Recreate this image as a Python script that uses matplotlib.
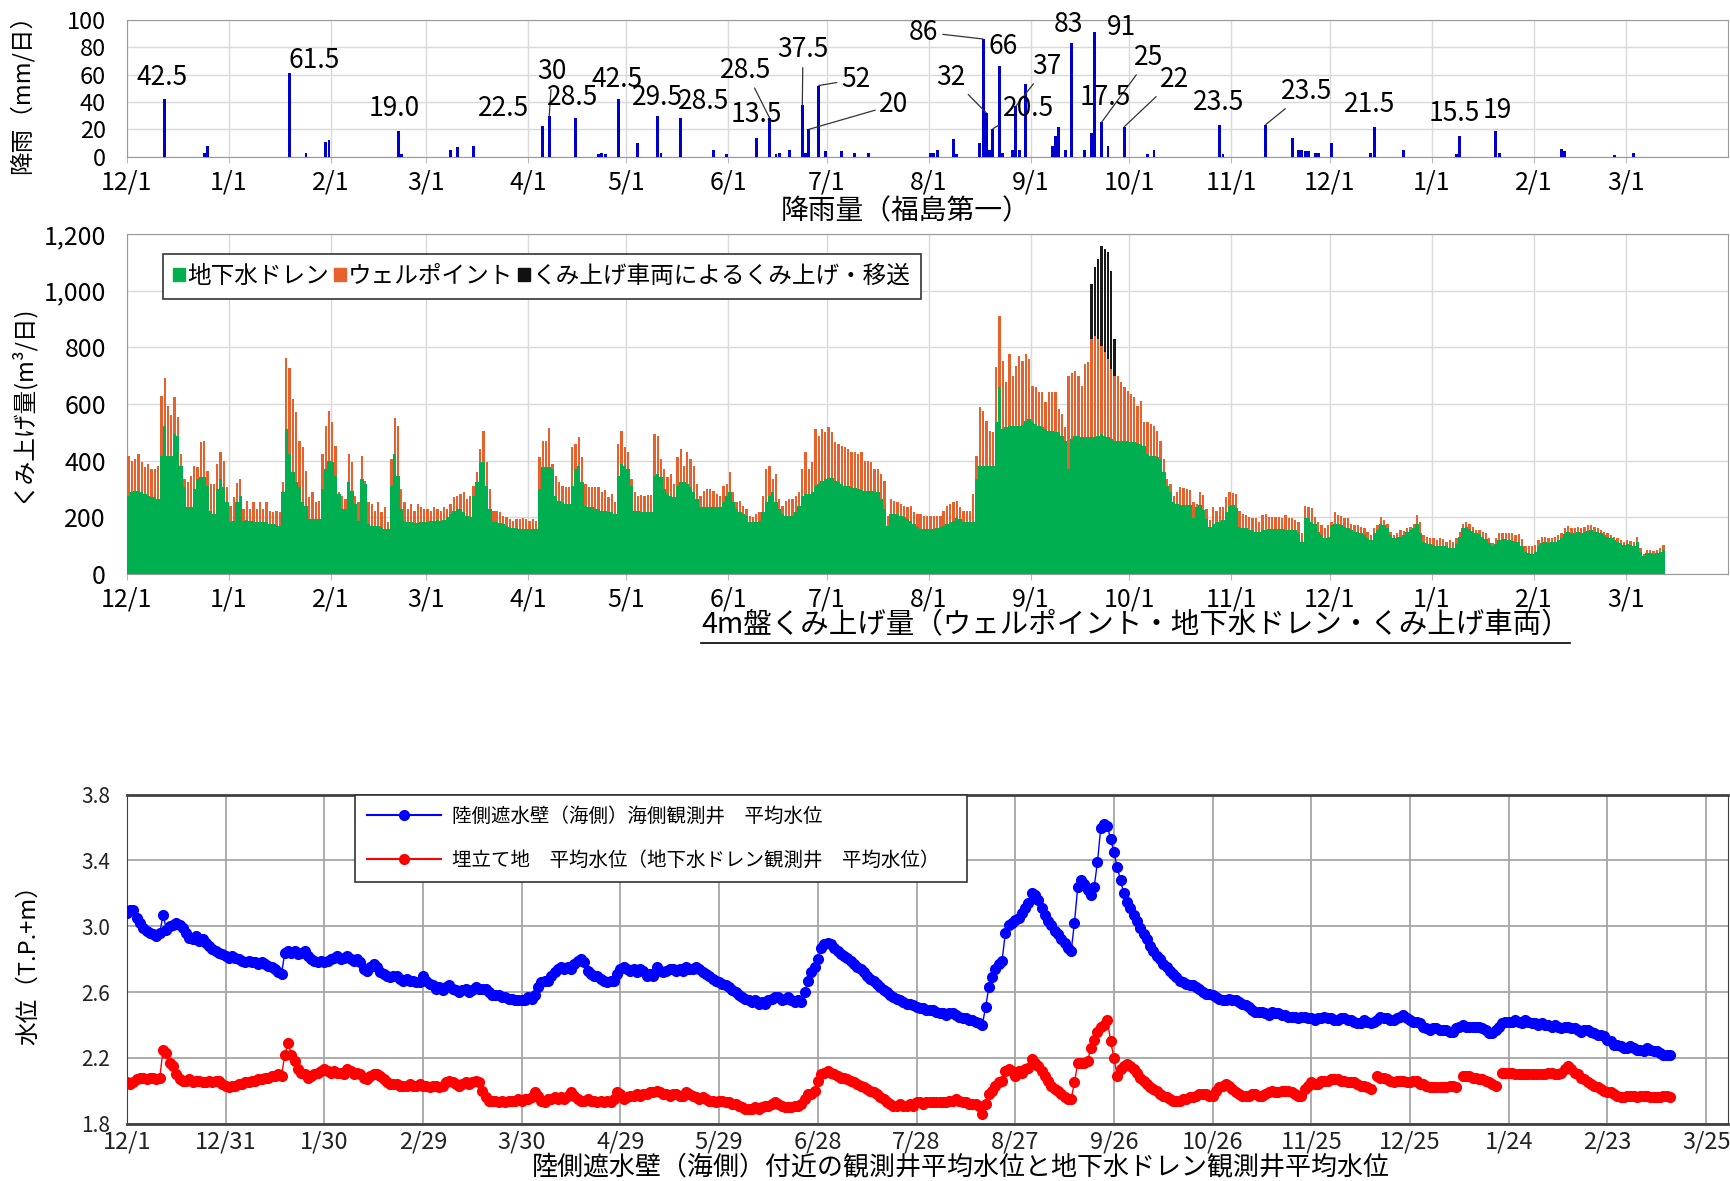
import numpy as np
import matplotlib
matplotlib.use('Agg')
import matplotlib.pyplot as plt
from matplotlib.patches import Patch
from matplotlib.lines import Line2D
from matplotlib.ticker import FuncFormatter

plt.rcParams['font.family'] = ['Noto Sans CJK JP', 'DejaVu Sans']

# days are counted from 12/1 (2015)
month_days = [0, 31, 62, 91, 122, 152, 183, 213, 244, 275, 305, 336, 366, 397, 428, 456]
month_labels = ['12/1', '1/1', '2/1', '3/1', '4/1', '5/1', '6/1', '7/1', '8/1',
                '9/1', '10/1', '11/1', '12/1', '1/1', '2/1', '3/1']
level_labels = ['12/1', '12/31', '1/30', '2/29', '3/30', '4/29', '5/29', '6/28', '7/28',
                '8/27', '9/26', '10/26', '11/25', '12/25', '1/24', '2/23', '3/25']

# rainfall (mm/day)
rain_day = [11, 23, 24, 49, 54, 60, 61, 82, 83, 98, 100, 105, 126, 128, 136, 143, 144, 145,
            149, 155, 161, 162, 168, 178, 182, 191, 195, 197, 198, 201, 205, 206, 207, 210,
            212, 217, 221, 225, 244, 245, 246, 251, 252, 259, 260, 261, 262, 263, 265, 266,
            269, 270, 271, 273, 281, 282, 283, 285, 287, 291, 293, 294, 296, 298, 303, 310,
            312, 332, 333, 346, 354, 356, 357, 358, 359, 361, 362, 366, 378, 379, 388, 404,
            405, 416, 417, 436, 437, 452, 458]
rain_mm = [42.5, 3, 8, 61.5, 3, 11, 12, 19.0, 2, 5, 7, 8, 22.5, 30, 28.5, 2, 3, 2,
           42.5, 10, 29.5, 3, 28.5, 5, 2, 13.5, 28.5, 2, 3, 5, 37.5, 3, 20, 52,
           4, 4, 3, 3, 3, 3, 5, 13, 2, 10, 86, 32, 5, 20.5, 66, 3,
           5, 37, 5, 53, 8, 15, 22, 5, 83, 5, 17.5, 91, 25, 8, 22, 2,
           5, 23.5, 2, 23.5, 14, 5, 5, 4, 4, 3, 3, 10, 3, 21.5, 5, 2,
           15.5, 19, 3, 6, 4, 1, 3]

label_text = ['42.5', '61.5', '19.0', '22.5', '30', '28.5', '42.5', '29.5', '28.5', '13.5',
              '28.5', '37.5', '52', '20', '86', '66', '32', '37', '20.5', '83', '91', '25',
              '17.5', '22', '23.5', '23.5', '21.5', '15.5', '19']
label_day = [11, 49, 82, 126, 128, 136, 149, 161, 168, 191, 195, 205, 210, 207, 260, 265, 261,
             270, 263, 287, 294, 296, 293, 303, 332, 346, 379, 405, 416]
label_leader = [0, 0, 0, 0, 1, 0, 0, 0, 0, 0, 1, 1, 1, 1, 1, 0, 1, 1, 1, 0, 0, 1, 0, 1, 0, 1, 0, 0, 0]
label_pos = [(10.7, 58), (57, 70), (81.3, 35.5), (114.7, 35.5), (129.4, 62), (135.5, 43.5),
             (149, 56.5), (161.5, 43.5), (175.6, 40), (191.6, 30.6), (188.3, 63), (205.7, 78),
             (221.7, 56.5), (233.4, 38), (242.5, 91), (266.6, 80.6), (250.8, 58), (280, 66),
             (274.2, 35.5), (286.6, 96.8), (302.7, 94.4), (311, 72.6), (297.7, 43.5),
             (318.7, 56.5), (332.1, 39.5), (358.9, 47.6), (378, 37.9), (403.8, 31.5), (417.0, 33.9)]

# pumped volume (m3/day): groundwater drain, and drain + well point (top of orange)
drain = (
    # Dec
    [276, 288, 294, 294, 288, 282, 276, 270, 270, 265, 417, 523, 417, 417, 494, 488, 380, 306, 235, 235,
     300, 335, 341, 341, 312, 223, 212, 300, 335, 306, 253] +
    # Jan
    [182, 188, 253, 276, 188, 192, 188, 188, 185, 184, 182, 182, 176, 176, 173, 170, 288, 512, 423, 359,
     323, 306, 253, 241, 194, 194, 194, 194, 300, 370, 400] +
    # Feb
    [394, 347, 282, 229, 229, 323, 294, 247, 188, 335, 317, 176, 170, 170, 170, 165, 159, 159, 312, 423,
     347, 229, 188, 182, 182, 180, 180, 182, 184] +
    # Mar
    [184, 188, 188, 190, 188, 192, 200, 210, 223, 229, 229, 217, 206, 200, 276, 323, 394, 394, 312, 229,
     182, 182, 180, 176, 170, 165, 162, 162, 159, 159, 159] +
    # Apr
    [159, 159, 159, 300, 376, 376, 376, 370, 276, 259, 253, 247, 247, 312, 370, 382, 323, 241, 235, 235,
     230, 230, 223, 223, 217, 217, 212, 347, 388, 382] +
    # May
    [370, 312, 223, 223, 220, 218, 218, 218, 347, 353, 341, 300, 282, 276, 270, 312, 323, 323, 318, 306,
     288, 265, 235, 235, 235, 235, 235, 235, 235, 253, 276] +
    # Jun
    [288, 253, 229, 218, 212, 206, 182, 182, 182, 188, 218, 253, 276, 288, 253, 229, 212, 206, 206, 206,
     218, 241, 276, 282, 282, 288, 312, 318, 329, 335] +
    # Jul
    [338, 338, 329, 323, 318, 312, 312, 306, 303, 300, 297, 294, 294, 294, 294, 288, 265, 229, 171, 212,
     212, 212, 206, 200, 194, 188, 176, 165, 159, 159, 159] +
    # Aug
    [159, 159, 161, 165, 171, 176, 182, 188, 196, 194, 185, 182, 182, 182, 335, 382, 382, 382, 382, 382,
     535, 659, 512, 517, 523, 523, 523, 523, 525, 541, 547] +
    # Sep
    [535, 529, 523, 517, 512, 506, 503, 500, 500, 488, 470, 370, 476, 488, 488, 482, 482, 482, 482, 482,
     488, 494, 488, 482, 476, 470, 470, 470, 470, 470] +
    # Oct
    [465, 465, 462, 459, 453, 423, 417, 417, 412, 406, 359, 312, 288, 253, 248, 245, 245, 242, 242, 198,
     237, 242, 225, 195, 167, 178, 184, 184, 190, 219, 240] +
    # Nov
    [245, 233, 167, 161, 161, 155, 155, 149, 149, 155, 155, 158, 158, 158, 158, 158, 156, 156, 155, 155,
     143, 114, 198, 198, 184, 175, 149, 138, 126, 131] +
    # Dec
    [172, 178, 175, 172, 167, 161, 155, 149, 147, 143, 138, 126, 120, 143, 155, 175, 172, 161, 138, 128,
     131, 131, 138, 149, 155, 161, 175, 143, 114, 108, 106] +
    # Jan
    [103, 97, 100, 99, 97, 93, 93, 105, 131, 161, 167, 158, 152, 143, 140, 131, 124, 108, 97, 105,
     120, 124, 124, 120, 117, 112, 114, 97, 79, 73, 70] +
    # Feb
    [79, 97, 108, 114, 108, 112, 114, 120, 126, 140, 149, 143, 143, 149, 143, 149, 152, 155, 149, 147,
     143, 138, 131, 126, 120, 114, 108, 103] +
    # Mar
    [105, 103, 100, 114, 79, 62, 73, 73, 70, 73, 79, 85]
)

drain_plus_wp = (
    # Dec
    [417, 400, 406, 423, 394, 376, 388, 370, 370, 382, 629, 690, 594, 561, 623, 555, 423, 335, 323, 347,
     382, 376, 465, 470, 365, 318, 318, 388, 429, 400, 306] +
    # Jan
    [241, 270, 321, 335, 229, 259, 229, 255, 229, 255, 229, 253, 223, 220, 223, 220, 323, 761, 726, 617,
     570, 470, 447, 365, 270, 288, 253, 259, 423, 523, 576] +
    # Feb
    [535, 453, 288, 276, 265, 423, 394, 276, 253, 417, 329, 253, 247, 223, 253, 220, 235, 182, 406, 549,
     523, 300, 253, 229, 247, 223, 247, 235, 229] +
    # Mar
    [229, 223, 235, 229, 223, 235, 229, 247, 270, 276, 282, 288, 265, 276, 312, 359, 441, 506, 394, 300,
     223, 223, 220, 206, 200, 194, 188, 194, 194, 196, 194] +
    # Apr
    [188, 194, 188, 412, 470, 470, 514, 388, 347, 323, 312, 306, 306, 447, 459, 482, 412, 318, 306, 306,
     306, 306, 288, 295, 270, 282, 253, 459, 506, 447] +
    # May
    [429, 335, 288, 276, 280, 276, 280, 278, 494, 486, 406, 370, 341, 353, 318, 412, 441, 382, 429, 406,
     382, 318, 276, 294, 300, 300, 294, 282, 276, 312, 318] +
    # Jun
    [359, 288, 253, 259, 241, 229, 206, 200, 212, 218, 276, 370, 382, 335, 353, 265, 241, 259, 265, 265,
     276, 288, 370, 429, 370, 394, 512, 488, 512, 500] +
    # Jul
    [517, 500, 465, 459, 453, 447, 441, 429, 429, 423, 429, 400, 400, 394, 370, 370, 353, 329, 206, 265,
     259, 253, 247, 241, 235, 241, 218, 212, 212, 206, 206] +
    # Aug
    [206, 206, 206, 206, 223, 241, 247, 253, 259, 235, 223, 223, 223, 282, 417, 588, 576, 541, 506, 500,
     729, 911, 753, 676, 776, 700, 735, 770, 753, 776, 759] +
    # Sep
    [665, 659, 641, 641, 606, 641, 641, 641, 582, 564, 520, 700, 711, 717, 700, 665, 741, 747, 829, 841,
     829, 806, 782, 759, 723, 700, 700, 676, 659, 647] +
    # Oct
    [635, 623, 594, 611, 535, 535, 529, 523, 506, 470, 406, 335, 318, 276, 290, 307, 303, 301, 295, 254,
     248, 289, 277, 231, 190, 237, 221, 237, 237, 272, 289] +
    # Nov
    [287, 283, 221, 210, 207, 202, 196, 196, 184, 207, 213, 202, 202, 202, 202, 199, 207, 196, 199, 190,
     182, 143, 240, 237, 233, 202, 182, 173, 161, 173] +
    # Dec
    [184, 219, 207, 205, 196, 196, 178, 173, 173, 167, 161, 149, 138, 161, 173, 202, 190, 178, 149, 138,
     143, 155, 152, 161, 167, 178, 207, 184, 138, 131, 128] +
    # Jan
    [126, 120, 128, 124, 114, 120, 114, 126, 149, 178, 184, 175, 167, 155, 155, 149, 143, 126, 108, 126,
     143, 146, 146, 143, 143, 138, 140, 124, 97, 97, 97] +
    # Feb
    [103, 120, 131, 131, 126, 128, 131, 138, 143, 161, 170, 163, 163, 167, 163, 167, 173, 173, 167, 163,
     155, 149, 143, 138, 131, 126, 120, 114] +
    # Mar
    [120, 117, 112, 131, 91, 70, 85, 85, 82, 85, 91, 103]
)

# pumping by vehicles (black)
truck_day = [293, 294, 295, 296, 297, 298, 299, 300]
truck = [194, 241, 282, 350, 365, 378, 347, 131]

# mean water levels (T.P.+m), one value per day from 12/1
level_sea = [
    3.08, 3.10, 3.10, 3.05, 3.02, 2.99, 2.97, 2.96, 2.95, 2.94,
    2.96, 3.07, 2.98, 3.00, 3.01, 3.02, 3.01, 2.99, 2.96, 2.93,
    2.92, 2.94, 2.91, 2.92, 2.90, 2.88, 2.86, 2.85, 2.84, 2.83,
    2.82, 2.81, 2.82, 2.81, 2.80, 2.79, 2.78, 2.79, 2.78, 2.78,
    2.77, 2.78, 2.77, 2.76, 2.75, 2.74, 2.72, 2.71, 2.84, 2.85,
    2.84, 2.85, 2.83, 2.84, 2.85, 2.82, 2.80, 2.79, 2.78, 2.79,
    2.78, 2.79, 2.80, 2.81, 2.82, 2.80, 2.81, 2.82, 2.80, 2.79,
    2.80, 2.78, 2.74, 2.73, 2.75, 2.77, 2.75, 2.72, 2.71, 2.70,
    2.69, 2.70, 2.70, 2.68, 2.67, 2.68, 2.67, 2.67, 2.66, 2.66,
    2.70, 2.67, 2.65, 2.64, 2.62, 2.63, 2.61, 2.63, 2.64, 2.62,
    2.61, 2.60, 2.61, 2.62, 2.60, 2.61, 2.63, 2.62, 2.62, 2.62,
    2.60, 2.58, 2.58, 2.58, 2.57, 2.57, 2.56, 2.56, 2.55, 2.55,
    2.55, 2.55, 2.57, 2.56, 2.58, 2.63, 2.66, 2.67, 2.67, 2.70,
    2.72, 2.74, 2.75, 2.74, 2.75, 2.74, 2.77, 2.79, 2.80, 2.78,
    2.73, 2.71, 2.70, 2.70, 2.68, 2.67, 2.66, 2.67, 2.67, 2.71,
    2.74, 2.75, 2.74, 2.73, 2.74, 2.72, 2.74, 2.73, 2.70, 2.71,
    2.70, 2.75, 2.73, 2.72, 2.73, 2.74, 2.74, 2.73, 2.74, 2.73,
    2.75, 2.74, 2.74, 2.75, 2.74, 2.72, 2.71, 2.70, 2.68, 2.67,
    2.66, 2.65, 2.64, 2.63, 2.61, 2.60, 2.58, 2.57, 2.56, 2.55,
    2.54, 2.55, 2.53, 2.54, 2.53, 2.55, 2.56, 2.57, 2.57, 2.55,
    2.56, 2.57, 2.55, 2.54, 2.55, 2.54, 2.60, 2.67, 2.72, 2.75,
    2.80, 2.87, 2.89, 2.90, 2.89, 2.87, 2.85, 2.83, 2.82, 2.81,
    2.79, 2.77, 2.75, 2.74, 2.72, 2.70, 2.68, 2.67, 2.65, 2.63,
    2.61, 2.60, 2.58, 2.57, 2.56, 2.55, 2.54, 2.53, 2.53, 2.52,
    2.51, 2.50, 2.50, 2.49, 2.49, 2.49, 2.48, 2.47, 2.47, 2.46,
    2.47, 2.47, 2.46, 2.45, 2.44, 2.44, 2.43, 2.43, 2.42, 2.41,
    2.40, 2.51, 2.63, 2.69, 2.74, 2.77, 2.79, 2.96, 3.01, 3.02,
    3.04, 3.05, 3.08, 3.11, 3.14, 3.20, 3.19, 3.16, 3.11, 3.07,
    3.03, 3.01, 2.97, 2.95, 2.92, 2.90, 2.87, 2.85, 3.02, 3.24,
    3.28, 3.26, 3.22, 3.19, 3.24, 3.39, 3.60, 3.62, 3.61, 3.53,
    3.45, 3.36, 3.28, 3.20, 3.15, 3.11, 3.07, 3.03, 2.99, 2.95,
    2.92, 2.88, 2.85, 2.82, 2.80, 2.77, 2.75, 2.73, 2.71, 2.69,
    2.67, 2.66, 2.65, 2.64, 2.64, 2.63, 2.62, 2.60, 2.59, 2.59,
    2.58, 2.57, 2.56, 2.55, 2.55, 2.56, 2.55, 2.55, 2.54, 2.53,
    2.52, 2.51, 2.49, 2.48, 2.48, 2.48, 2.47, 2.46, 2.48, 2.47,
    2.47, 2.46, 2.46, 2.45, 2.45, 2.45, 2.44, 2.45, 2.45, 2.44,
    2.44, 2.43, 2.44, 2.44, 2.45, 2.44, 2.44, 2.43, 2.43, 2.44,
    2.44, 2.43, 2.43, 2.42, 2.41, 2.41, 2.43, 2.42, 2.41, 2.42,
    2.43, 2.45, 2.44, 2.44, 2.43, 2.43, 2.44, 2.45, 2.46, 2.44,
    2.43, 2.42, 2.42, 2.41, 2.39, 2.38, 2.37, 2.38, 2.38, 2.37,
    2.37, 2.37, 2.36, 2.36, 2.38, 2.39, 2.40, 2.39, 2.39, 2.39,
    2.39, 2.39, 2.38, 2.37, 2.35, 2.35, 2.37, 2.39, 2.41, 2.42,
    2.42, 2.42, 2.43, 2.42, 2.41, 2.43, 2.42, 2.41, 2.41, 2.40,
    2.41, 2.40, 2.40, 2.39, 2.40, 2.39, 2.38, 2.39, 2.39, 2.38,
    2.38, 2.37, 2.36, 2.37, 2.37, 2.36, 2.35, 2.34, 2.34, 2.33,
    2.31, 2.30, 2.28, 2.28, 2.27, 2.26, 2.26, 2.27, 2.26, 2.25,
    2.25, 2.24, 2.26, 2.25, 2.24, 2.24, 2.23, 2.22, 2.22, 2.22,
]

level_land = [
    2.05, 2.04, 2.05, 2.07, 2.08, 2.08, 2.07, 2.08, 2.08, 2.07,
    2.08, 2.25, 2.23, 2.17, 2.15, 2.10, 2.07, 2.06, 2.06, 2.07,
    2.05, 2.06, 2.06, 2.05, 2.05, 2.06, 2.05, 2.06, 2.06, 2.04,
    2.03, 2.02, 2.03, 2.03, 2.04, 2.04, 2.05, 2.05, 2.06, 2.06,
    2.07, 2.07, 2.08, 2.08, 2.09, 2.09, 2.10, 2.09, 2.22, 2.29,
    2.22, 2.18, 2.13, 2.11, 2.10, 2.08, 2.09, 2.10, 2.11, 2.12,
    2.13, 2.12, 2.11, 2.12, 2.11, 2.11, 2.10, 2.13, 2.12, 2.10,
    2.11, 2.10, 2.08, 2.07, 2.09, 2.10, 2.10, 2.09, 2.07, 2.05,
    2.04, 2.04, 2.04, 2.03, 2.03, 2.03, 2.04, 2.03, 2.03, 2.04,
    2.03, 2.03, 2.02, 2.03, 2.03, 2.02, 2.03, 2.05, 2.06, 2.05,
    2.04, 2.03, 2.04, 2.05, 2.04, 2.05, 2.06, 2.05, 2.00, 1.96,
    1.94, 1.94, 1.94, 1.93, 1.94, 1.93, 1.94, 1.94, 1.94, 1.95,
    1.94, 1.95, 1.95, 1.96, 1.99, 1.97, 1.94, 1.93, 1.95, 1.95,
    1.96, 1.95, 1.96, 1.95, 1.97, 1.99, 1.97, 1.95, 1.94, 1.94,
    1.95, 1.94, 1.94, 1.93, 1.94, 1.93, 1.94, 1.93, 1.95, 1.99,
    1.98, 1.95, 1.96, 1.97, 1.97, 1.98, 1.97, 1.98, 1.98, 1.99,
    1.99, 2.00, 1.99, 1.98, 1.98, 1.97, 1.98, 1.98, 1.97, 1.97,
    1.99, 1.98, 1.97, 1.96, 1.95, 1.96, 1.95, 1.94, 1.94, 1.93,
    1.94, 1.94, 1.93, 1.93, 1.92, 1.92, 1.91, 1.90, 1.89, 1.89,
    1.89, 1.90, 1.89, 1.90, 1.91, 1.91, 1.92, 1.93, 1.92, 1.91,
    1.90, 1.90, 1.90, 1.91, 1.91, 1.92, 1.95, 1.98, 1.98, 2.00,
    2.06, 2.10, 2.11, 2.12, 2.11, 2.10, 2.09, 2.08, 2.08, 2.07,
    2.06, 2.05, 2.04, 2.03, 2.02, 2.01, 2.00, 1.99, 1.98, 1.96,
    1.95, 1.93, 1.92, 1.91, 1.91, 1.92, 1.91, 1.91, 1.92, 1.91,
    1.93, 1.93, 1.92, 1.93, 1.93, 1.93, 1.93, 1.93, 1.93, 1.93,
    1.94, 1.94, 1.95, 1.94, 1.93, 1.93, 1.92, 1.92, 1.92, 1.91,
    1.86, 1.92, 1.98, 2.00, 2.03, 2.05, 2.06, 2.12, 2.13, 2.12,
    2.09, 2.12, 2.11, 2.13, 2.14, 2.19, 2.17, 2.15, 2.12, 2.09,
    2.06, 2.03, 2.01, 2.00, 1.98, 1.96, 1.95, 1.95, 2.05, 2.17,
    2.17, 2.17, 2.18, 2.26, 2.31, 2.36, 2.39, 2.40, 2.43, 2.30,
    2.20, 2.09, 2.13, 2.15, 2.16, 2.15, 2.13, 2.11, 2.08, 2.06,
    2.04, 2.02, 2.01, 2.00, 1.98, 1.97, 1.96, 1.95, 1.94, 1.94,
    1.94, 1.95, 1.95, 1.96, 1.96, 1.97, 1.98, 1.98, 1.98, 1.97,
    1.97, 2.00, 2.02, 2.03, 2.04, 2.03, 2.01, 1.99, 1.98, 1.97,
    1.97, 1.97, 1.98, 1.98, 1.97, 1.97, 1.98, 1.99, 2.00, 1.99,
    1.99, 2.00, 2.00, 2.00, 1.99, 1.98, 1.97, 1.97, 2.01, 2.03,
    2.05, 2.04, 2.04, 2.06, 2.06, 2.06, 2.07, 2.07, 2.07, 2.06,
    2.06, 2.05, 2.05, 2.05, 2.04, 2.03, 2.03, 2.02, 2.01, np.nan,
    2.09, 2.08, 2.08, 2.07, 2.06, 2.05, 2.06, 2.06, 2.06, 2.05,
    2.05, 2.06, 2.06, 2.04, 2.04, 2.03, 2.02, 2.02, 2.02, 2.02,
    2.02, 2.02, 2.03, 2.03, 2.02, np.nan, 2.09, 2.09, 2.09, 2.08,
    2.08, 2.07, 2.07, 2.06, 2.05, 2.04, 2.03, np.nan, 2.11, 2.11,
    2.11, 2.11, 2.10, 2.10, 2.10, 2.10, 2.10, 2.10, 2.10, 2.10,
    2.10, 2.10, 2.11, 2.11, 2.10, 2.10, 2.11, 2.13, 2.15, 2.13,
    2.11, 2.10, 2.08, 2.07, 2.05, 2.04, 2.03, 2.02, 2.01, 2.00,
    1.99, 1.99, 1.98, 1.97, 1.96, 1.96, 1.97, 1.97, 1.97, 1.96,
    1.97, 1.97, 1.97, 1.96, 1.96, 1.96, 1.96, 1.97, 1.97, 1.96,
]

GREEN = '#00B050'
ORANGE = '#E8602C'
GRID = '#d9d9d9'

fig = plt.figure(figsize=(17.31, 11.81), dpi=100)
ax1 = fig.add_axes([0.0733, 0.8673, 0.9247, 0.1159])
ax2 = fig.add_axes([0.0733, 0.5140, 0.9247, 0.2879])
ax3 = fig.add_axes([0.0733, 0.0486, 0.9247, 0.2785])

# ---- rainfall
ax1.bar(np.array(rain_day) + 0.5, rain_mm, width=0.9, color='#0000CC', zorder=3)
ax1.set_xlim(0, 487)
ax1.set_ylim(0, 100)
ax1.set_yticks(range(0, 101, 20))
ax1.set_xticks(month_days)
ax1.set_xticklabels(month_labels)
ax1.set_axisbelow(True)
ax1.grid(color=GRID, lw=1)
ax1.tick_params(axis='y', length=0, labelsize=17, pad=15)
ax1.tick_params(axis='x', length=4, color='#bbbbbb', labelsize=18, pad=5)
for s in ax1.spines.values():
    s.set_color('#999999')
ax1.set_ylabel('降雨（mm/日）', fontsize=17)
ax1.yaxis.set_label_coords(-0.058, 0.5)

for text, day, (tx, ty), leader in zip(label_text, label_day, label_pos, label_leader):
    val = rain_mm[rain_day.index(day)]
    if leader:
        ax1.annotate(text, xy=(day + 0.5, val), xytext=(tx, ty), ha='center', va='center',
                     fontsize=19, annotation_clip=False,
                     arrowprops=dict(arrowstyle='-', color='#333333', lw=0.9,
                                     shrinkA=1, shrinkB=0))
    else:
        ax1.text(tx, ty, text, ha='center', va='center', fontsize=19)

fig.text(0.523, 0.821, '降雨量（福島第一）', ha='center', va='center', fontsize=20)

# ---- pumped volume
x = np.arange(len(drain)) + 0.5
total = np.array(drain_plus_wp)
wellpoint = total - np.array(drain)
ax2.bar(x, drain, width=1.0, color=GREEN, lw=0, zorder=3)
ax2.bar(x, wellpoint, width=0.7, bottom=drain, color=ORANGE, lw=0, zorder=3)
ax2.bar(np.array(truck_day) + 0.5, truck, width=0.7, bottom=total[truck_day],
        color='#1a1a1a', lw=0, zorder=3)
ax2.set_xlim(0, 487)
ax2.set_ylim(0, 1200)
ax2.set_yticks(range(0, 1201, 200))
ax2.yaxis.set_major_formatter(FuncFormatter(lambda v, p: f'{int(v):,}'))
ax2.set_xticks(month_days)
ax2.set_xticklabels(month_labels)
ax2.set_axisbelow(True)
ax2.grid(color=GRID, lw=1)
ax2.tick_params(axis='y', length=0, labelsize=18, pad=15)
ax2.tick_params(axis='x', length=4, color='#bbbbbb', labelsize=18, pad=5)
for s in ax2.spines.values():
    s.set_color('#999999')
ax2.set_ylabel('くみ上げ量(m³/日)', fontsize=17)
ax2.yaxis.set_label_coords(-0.058, 0.5)

handles = [Patch(color=GREEN), Patch(color=ORANGE), Patch(color='#111111')]
leg = ax2.legend(handles, ['地下水ドレン', 'ウェルポイント', 'くみ上げ車両によるくみ上げ・移送'],
                 ncol=3, loc='upper left', bbox_to_anchor=(0.015, 0.975), fontsize=17,
                 handlelength=0.5, handleheight=0.5, handletextpad=0.1, columnspacing=0.2,
                 fancybox=False, borderpad=0.45, framealpha=1)
leg.get_frame().set_edgecolor('#333333')
leg.get_frame().set_linewidth(1.2)

title2 = fig.text(0.405, 0.4705, '4m盤くみ上げ量（ウェルポイント・地下水ドレン・くみ上げ車両）',
                  ha='left', va='center', fontsize=20.5)

# ---- water levels
days = np.arange(len(level_sea))
ax3.plot(days, level_sea, color='#0000FF', lw=1, marker='o', ms=7, zorder=3)
ax3.plot(np.arange(len(level_land)), level_land, color='#FF0000', lw=1, marker='o', ms=7, zorder=3)
ax3.set_xlim(0, 486.5)
ax3.set_ylim(1.8, 3.8)
ax3.set_yticks(np.arange(1.8, 3.81, 0.4))
ax3.yaxis.set_major_formatter(FuncFormatter(lambda v, p: f'{v:.1f}'))
ax3.set_xticks(range(0, 481, 30))
ax3.set_xticklabels(level_labels)
ax3.set_axisbelow(True)
ax3.grid(color='#a6a6a6', lw=1.3)
ax3.tick_params(axis='y', length=0, labelsize=15, pad=12, colors='#222222')
ax3.tick_params(axis='x', length=0, labelsize=17, pad=5, colors='#222222')
for s in ax3.spines.values():
    s.set_color('#404040')
ax3.spines['top'].set_linewidth(2)
ax3.spines['bottom'].set_linewidth(2)
ax3.set_ylabel('水位（T.P.+m）', fontsize=17)
ax3.yaxis.set_label_coords(-0.054, 0.5)

lh = [Line2D([], [], color='#0000FF', lw=1.5, marker='o', ms=7),
      Line2D([], [], color='#FF0000', lw=1.5, marker='o', ms=7)]
leg3 = ax3.legend(lh, ['陸側遮水壁（海側）海側観測井　平均水位',
                       '埋立て地　平均水位（地下水ドレン観測井　平均水位）'],
                  loc='upper left', bbox_to_anchor=(0.1366, 0.0, 0.3945, 1.03), mode='expand',
                  fontsize=14, handlelength=3.8, labelspacing=1.15, borderpad=0.6,
                  fancybox=False, framealpha=1, handletextpad=0.6)
leg3.get_frame().set_edgecolor('#333333')
leg3.get_frame().set_linewidth(1.2)

fig.text(0.555, 0.012, '陸側遮水壁（海側）付近の観測井平均水位と地下水ドレン観測井平均水位',
         ha='center', va='center', fontsize=18.7)

# underline for the middle title
fig.canvas.draw()
bb = title2.get_window_extent().transformed(fig.transFigure.inverted())
fig.add_artist(Line2D([bb.x0, bb.x1], [bb.y0 - 0.002, bb.y0 - 0.002],
                      transform=fig.transFigure, color='black', lw=1.2))

fig.savefig('out.png', dpi=100)
